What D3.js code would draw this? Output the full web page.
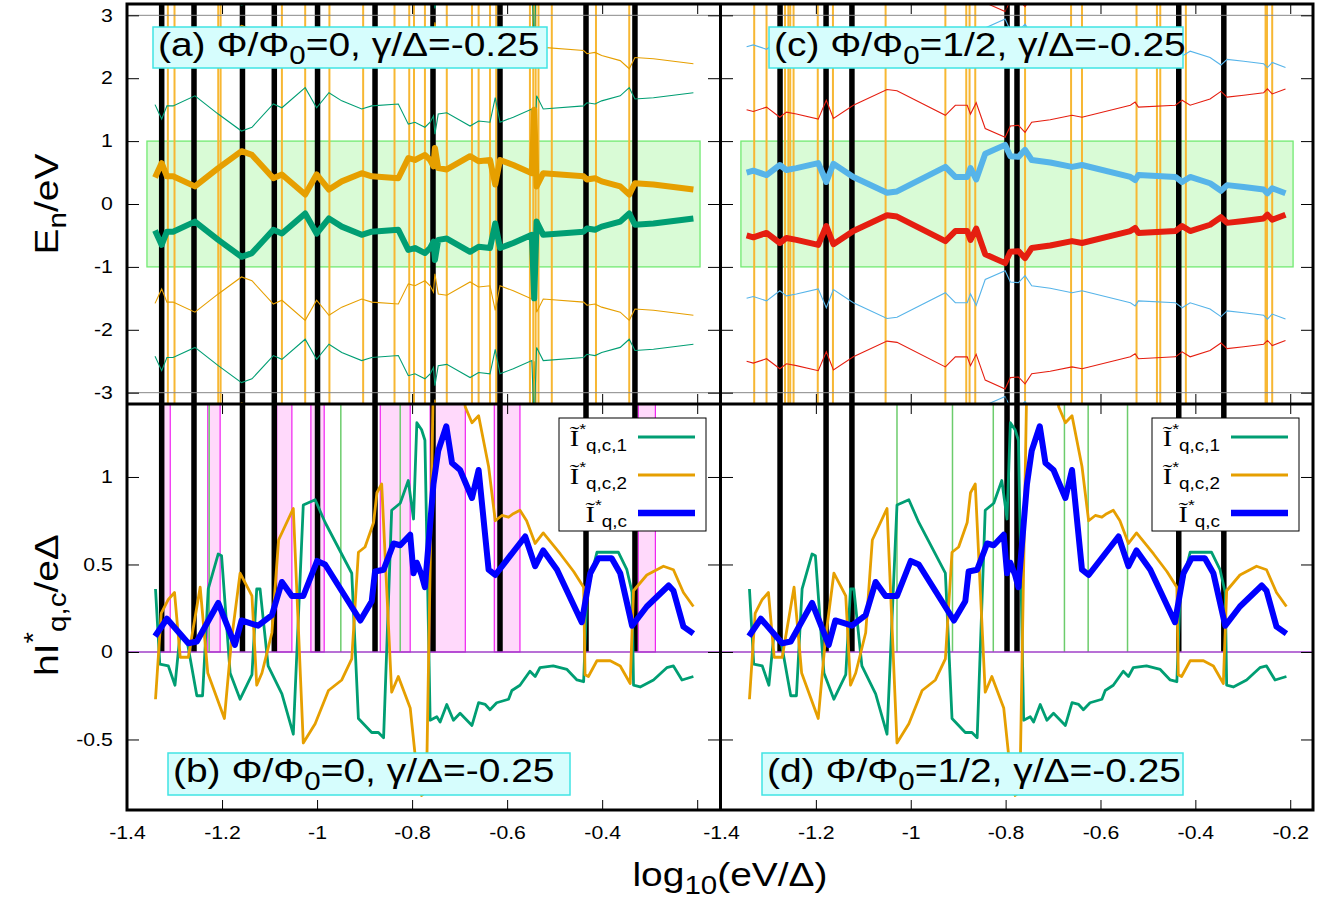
<!DOCTYPE html>
<html>
<head>
<meta charset="utf-8">
<script src="https://d3js.org/d3.v7.min.js"></script>
<style>
body { margin: 0; background: #fff; }
text { font-family: "Liberation Sans", Arial, sans-serif; fill: #000; }
</style>
</head>
<body>
<svg id="chart" width="1328" height="899"></svg>
<script>
// ---------------- data, x = log10(eV/Delta) ----------------
var xTicks = [-1.4, -1.2, -1, -0.8, -0.6, -0.4, -0.2];
var eTicks = [-3, -2, -1, 0, 1, 2, 3];
var iTicks = [-0.5, 0, 0.5, 1];
var zoneShifts = [-4, -2, 2, 4];   // quasi-energy copies drawn thin
var band = [-1.358, -0.194];        // green window, E in [-1, 1]

// (a) Phi/Phi0 = 0 : quasi-energies
var energyA1 = [[-1.341,-0.42],[-1.327,-0.65],[-1.316,-0.44],[-1.303,-0.44],[-1.257,-0.28],[-1.208,-0.57],[-1.159,-0.84],[-1.137,-0.78],[-1.092,-0.41],[-1.074,-0.47],[-1.025,-0.15],[-1.001,-0.47],[-0.975,-0.23],[-0.948,-0.36],[-0.906,-0.49],[-0.885,-0.44],[-0.829,-0.41],[-0.808,-0.73],[-0.794,-0.70],[-0.773,-0.78],[-0.762,-0.70],[-0.755,-0.60],[-0.752,-0.89],[-0.745,-0.57],[-0.727,-0.55],[-0.678,-0.76],[-0.660,-0.68],[-0.636,-0.70],[-0.625,-0.31],[-0.615,-0.70],[-0.587,-0.62],[-0.548,-0.49],[-0.543,-1.50],[-0.538,-0.28],[-0.524,-0.49],[-0.439,-0.44],[-0.432,-0.39],[-0.415,-0.41],[-0.401,-0.36],[-0.362,-0.28],[-0.343,-0.15],[-0.331,-0.33],[-0.292,-0.31],[-0.250,-0.27],[-0.208,-0.23]];
var energyA2 = [[-1.341,0.42],[-1.327,0.65],[-1.316,0.44],[-1.303,0.44],[-1.257,0.28],[-1.208,0.57],[-1.159,0.84],[-1.137,0.78],[-1.092,0.41],[-1.074,0.47],[-1.025,0.15],[-1.001,0.47],[-0.975,0.23],[-0.948,0.36],[-0.906,0.49],[-0.885,0.44],[-0.829,0.41],[-0.808,0.73],[-0.794,0.70],[-0.773,0.78],[-0.762,0.70],[-0.755,0.60],[-0.752,0.89],[-0.745,0.57],[-0.727,0.55],[-0.678,0.76],[-0.660,0.68],[-0.636,0.70],[-0.625,0.31],[-0.615,0.70],[-0.587,0.62],[-0.548,0.49],[-0.543,1.50],[-0.538,0.28],[-0.524,0.49],[-0.439,0.44],[-0.432,0.39],[-0.415,0.41],[-0.401,0.36],[-0.362,0.28],[-0.343,0.15],[-0.331,0.33],[-0.292,0.31],[-0.250,0.27],[-0.208,0.23]];
// (c) Phi/Phi0 = 1/2
var energyC1 = [[-1.346,-0.50],[-1.332,-0.53],[-1.304,-0.46],[-1.276,-0.62],[-1.262,-0.54],[-1.241,-0.57],[-1.195,-0.65],[-1.178,-0.35],[-1.163,-0.64],[-1.121,-0.43],[-1.050,-0.18],[-1.029,-0.20],[-0.927,-0.59],[-0.906,-0.43],[-0.881,-0.43],[-0.874,-0.57],[-0.862,-0.39],[-0.843,-0.80],[-0.801,-0.94],[-0.790,-0.76],[-0.773,-0.75],[-0.759,-0.86],[-0.745,-0.70],[-0.706,-0.66],[-0.660,-0.59],[-0.639,-0.62],[-0.537,-0.43],[-0.527,-0.38],[-0.520,-0.46],[-0.442,-0.43],[-0.428,-0.35],[-0.411,-0.43],[-0.369,-0.33],[-0.346,-0.21],[-0.333,-0.30],[-0.298,-0.27],[-0.256,-0.23],[-0.248,-0.17],[-0.238,-0.25],[-0.210,-0.17]];
var energyC2 = [[-1.346,0.50],[-1.332,0.53],[-1.304,0.46],[-1.276,0.62],[-1.262,0.54],[-1.241,0.57],[-1.195,0.65],[-1.178,0.35],[-1.163,0.64],[-1.121,0.43],[-1.050,0.18],[-1.029,0.20],[-0.927,0.59],[-0.906,0.43],[-0.881,0.43],[-0.874,0.57],[-0.862,0.39],[-0.843,0.80],[-0.801,0.94],[-0.790,0.76],[-0.773,0.75],[-0.759,0.86],[-0.745,0.70],[-0.706,0.66],[-0.660,0.59],[-0.639,0.62],[-0.537,0.43],[-0.527,0.38],[-0.520,0.46],[-0.442,0.43],[-0.428,0.35],[-0.411,0.43],[-0.369,0.33],[-0.346,0.21],[-0.333,0.30],[-0.298,0.27],[-0.256,0.23],[-0.248,0.17],[-0.238,0.25],[-0.210,0.17]];

// (b),(d) currents (same in both)
var curI1 = [[-1.340,0.36],[-1.331,-0.07],[-1.313,-0.08],[-1.299,-0.19],[-1.288,0.11],[-1.274,0.07],[-1.253,-0.25],[-1.241,-0.25],[-1.229,0.36],[-1.208,0.56],[-1.201,0.55],[-1.183,-0.12],[-1.162,-0.27],[-1.137,-0.13],[-1.127,0.36],[-1.120,0.36],[-1.103,-0.08],[-1.074,-0.24],[-1.050,-0.47],[-1.029,0.84],[-1.004,0.87],[-0.983,0.74],[-0.927,0.45],[-0.913,-0.38],[-0.885,-0.46],[-0.871,-0.46],[-0.860,-0.49],[-0.843,0.81],[-0.825,0.85],[-0.808,0.98],[-0.797,0.76],[-0.790,1.31],[-0.780,1.27],[-0.773,1.21],[-0.762,-0.39],[-0.748,-0.37],[-0.741,-0.40],[-0.727,-0.30],[-0.713,-0.39],[-0.699,-0.35],[-0.674,-0.42],[-0.660,-0.29],[-0.646,-0.30],[-0.636,-0.33],[-0.622,-0.29],[-0.597,-0.27],[-0.590,-0.22],[-0.573,-0.19],[-0.552,-0.11],[-0.541,-0.14],[-0.531,-0.09],[-0.503,-0.08],[-0.474,-0.10],[-0.453,-0.16],[-0.439,-0.17],[-0.432,0.34],[-0.411,0.57],[-0.366,0.57],[-0.348,0.47],[-0.337,0.34],[-0.334,-0.19],[-0.320,-0.20],[-0.292,-0.16],[-0.264,-0.09],[-0.250,-0.08],[-0.232,-0.16],[-0.208,-0.14]];
var curI2 = [[-1.340,-0.27],[-1.328,0.22],[-1.313,0.30],[-1.300,0.34],[-1.288,-0.03],[-1.271,-0.03],[-1.246,0.37],[-1.230,-0.12],[-1.195,-0.38],[-1.180,0.07],[-1.162,0.45],[-1.137,0.32],[-1.127,-0.19],[-1.116,-0.12],[-1.095,0.11],[-1.081,0.64],[-1.050,0.82],[-1.029,-0.52],[-1.004,-0.41],[-0.976,-0.22],[-0.948,-0.16],[-0.927,-0.04],[-0.913,0.57],[-0.899,0.60],[-0.881,0.74],[-0.874,0.91],[-0.864,0.96],[-0.843,-0.23],[-0.829,-0.14],[-0.804,-0.32],[-0.794,-0.58],[-0.780,-0.82],[-0.770,-0.80],[-0.755,1.6],[-0.735,1.9],[-0.705,1.7],[-0.688,1.40],[-0.674,1.31],[-0.660,1.35],[-0.639,1.06],[-0.625,0.75],[-0.611,0.78],[-0.597,0.77],[-0.587,0.79],[-0.573,0.81],[-0.559,0.75],[-0.541,0.62],[-0.524,0.68],[-0.488,0.56],[-0.460,0.46],[-0.439,0.37],[-0.436,-0.13],[-0.429,-0.14],[-0.411,-0.05],[-0.383,-0.05],[-0.362,-0.08],[-0.341,-0.18],[-0.334,0.35],[-0.306,0.44],[-0.271,0.49],[-0.250,0.47],[-0.229,0.34],[-0.208,0.26]];
var curI = [[-1.341,0.09],[-1.316,0.19],[-1.271,0.05],[-1.253,0.06],[-1.208,0.28],[-1.173,0.04],[-1.159,0.18],[-1.124,0.15],[-1.095,0.21],[-1.074,0.40],[-1.053,0.32],[-1.029,0.32],[-1.000,0.52],[-0.983,0.50],[-0.909,0.18],[-0.885,0.29],[-0.878,0.46],[-0.860,0.47],[-0.839,0.62],[-0.825,0.61],[-0.804,0.67],[-0.797,0.45],[-0.790,0.51],[-0.780,0.44],[-0.773,0.37],[-0.755,0.96],[-0.745,1.15],[-0.728,1.29],[-0.716,1.08],[-0.699,1.04],[-0.674,0.88],[-0.660,1.04],[-0.639,0.47],[-0.625,0.44],[-0.562,0.66],[-0.541,0.49],[-0.524,0.58],[-0.495,0.47],[-0.443,0.17],[-0.425,0.45],[-0.408,0.535],[-0.380,0.535],[-0.362,0.45],[-0.337,0.15],[-0.306,0.26],[-0.260,0.38],[-0.250,0.35],[-0.229,0.145],[-0.208,0.105]];

// vertical markers
var blackLinesA = [-1.327, -1.259, -1.157, -1.090, -0.999, -0.878, -0.756, -0.615, -0.434, -0.331];
var orangeLinesA = [-1.314, -1.300, -1.208, -1.203, -1.074, -1.025, -0.974, -0.903, -0.837, -0.806, -0.796, -0.773, -0.727, -0.674, -0.660, -0.636, -0.623, -0.552, -0.545, -0.540, -0.534, -0.506, -0.413, -0.343];
var pinkB = [[-1.3305,-1.309],[-1.230,-1.204],[-1.085,-1.053],[-1.013,-0.985],[-0.867,-0.804],[-0.762,-0.688],[-0.627,-0.573],[-0.324,-0.288]];
var greenLinesB = [-1.227, -0.950, -0.825];
var blackLinesC = [-1.2755, -1.1785, -1.124, -0.797, -0.776, -0.435, -0.340];
var orangeLinesC = [-1.330, -1.304, -1.265, -1.258, -1.254, -1.247, -1.196, -1.164, -1.053, -0.927, -0.883, -0.876, -0.864, -0.759, -0.662, -0.639, -0.524, -0.481, -0.474, -0.420, -0.252, -0.249, -0.238];
var greenLinesD = [-1.029, -0.912, -0.826, -0.676, -0.626, -0.543];

var legendNames = ['q,c,1', 'q,c,2', 'q,c'];

// ---------------- drawing ----------------
var svg = d3.select('#chart');
var SX = 1.18; // text of the original is stretched horizontally

var xL = d3.scaleLinear().domain([-1.4, -0.152]).range([127, 720]);
var xR = d3.scaleLinear().domain([-1.4, -0.152]).range([721, 1313]);
var yE = d3.scaleLinear().domain([-3.18, 3.18]).range([404, 4]);
var yI = d3.scaleLinear().domain([-0.903, 1.417]).range([810, 404]);

function clipGroup(id, x, y) {
    svg.append('clipPath').attr('id', id).append('rect')
        .attr('x', x.range()[0]).attr('y', y.range()[1])
        .attr('width', x.range()[1] - x.range()[0])
        .attr('height', y.range()[0] - y.range()[1]);
    return svg.append('g').attr('clip-path', 'url(#' + id + ')');
}

function vlines(g, x, data, y0, y1, color, w) {
    g.append('g').selectAll('line').data(data).enter().append('line')
        .attr('x1', function(d){ return x(d); }).attr('x2', function(d){ return x(d); })
        .attr('y1', y0).attr('y2', y1)
        .attr('stroke', color).attr('stroke-width', w);
}

function energyPanel(id, x, low, high, colLow, colHigh, orangeLines, blackLines) {
    var g = clipGroup(id, x, yE);
    g.append('rect')
        .attr('x', x(band[0])).attr('y', yE(1))
        .attr('width', x(band[1]) - x(band[0])).attr('height', yE(-1) - yE(1))
        .attr('fill', '#d9fbd6').attr('stroke', '#72ea72').attr('stroke-width', 1.3);
    vlines(g, x, orangeLines, 4, 404, '#f7b733', 2);
    vlines(g, x, blackLines, 4, 404, '#000', 5.5);
    [3, -3].forEach(function(v){
        g.append('line').attr('x1', x.range()[0]).attr('x2', x.range()[1])
            .attr('y1', yE(v)).attr('y2', yE(v)).attr('stroke', '#888').attr('stroke-width', 1);
    });
    var line = d3.line().x(function(d){ return x(d[0]); }).y(function(d){ return yE(d[1]); });
    zoneShifts.forEach(function(s){
        [[low, colLow], [high, colHigh]].forEach(function(p){
            g.append('path').datum(p[0].map(function(d){ return [d[0], d[1] + s]; }))
                .attr('d', line).attr('fill', 'none').attr('stroke', p[1]).attr('stroke-width', 1.1);
        });
    });
    [[high, colHigh], [low, colLow]].forEach(function(p){
        g.append('path').datum(p[0]).attr('d', line).attr('fill', 'none')
            .attr('stroke', p[1]).attr('stroke-width', 6).attr('stroke-linejoin', 'round');
    });
}

function currentPanel(id, x, pink, greens, blacks) {
    var g = clipGroup(id, x, yI);
    g.append('g').selectAll('rect').data(pink).enter().append('rect')
        .attr('x', function(d){ return x(d[0]); }).attr('y', 404)
        .attr('width', function(d){ return x(d[1]) - x(d[0]); }).attr('height', yI(0) - 404)
        .attr('fill', '#ffd9fb').attr('stroke', '#f020f0').attr('stroke-width', 1.2);
    vlines(g, x, greens, 404, yI(0), '#6ccc6c', 1.5);
    vlines(g, x, blacks, 404, yI(0), '#000', 5.5);
    g.append('line').attr('x1', x.range()[0]).attr('x2', x.range()[1])
        .attr('y1', yI(0)).attr('y2', yI(0)).attr('stroke', '#a040c8').attr('stroke-width', 1.3);
    var line = d3.line().x(function(d){ return x(d[0]); }).y(function(d){ return yI(d[1]); });
    [[curI1, '#009e73', 2.8], [curI2, '#e69f00', 2.8], [curI, '#0000ff', 6]].forEach(function(p){
        g.append('path').datum(p[0]).attr('d', line).attr('fill', 'none')
            .attr('stroke', p[1]).attr('stroke-width', p[2]).attr('stroke-linejoin', 'round');
    });
}

energyPanel('ca', xL, energyA1, energyA2, '#009e73', '#e69f00', orangeLinesA, blackLinesA);
energyPanel('cc', xR, energyC1, energyC2, '#e51e10', '#56b4e9', orangeLinesC, blackLinesC);
currentPanel('cb', xL, pinkB, greenLinesB, blackLinesA);
currentPanel('cd', xR, [], greenLinesD, blackLinesC);

// legends
function legend(x0) {
    var g = svg.append('g');
    g.append('rect').attr('x', x0).attr('y', 418).attr('width', 147).attr('height', 113)
        .attr('fill', '#fff').attr('stroke', '#000').attr('stroke-width', 1);
    var cols = ['#009e73', '#e69f00', '#0000ff'], ws = [3, 3, 6.5];
    legendNames.forEach(function(name, i){
        var yy = 437 + i * 38;
        g.append('line').attr('x1', x0 + 79).attr('x2', x0 + 136).attr('y1', yy).attr('y2', yy)
            .attr('stroke', cols[i]).attr('stroke-width', ws[i]);
        var t = g.append('text').attr('text-anchor', 'end')
            .attr('transform', 'translate(' + (x0 + 68) + ',' + (yy + 9) + ') scale(' + SX + ',1)');
        t.append('tspan').style('font-family', '"Liberation Serif", serif').style('font-size', '24px').text('\u0128');
        t.append('tspan').attr('dy', -12).style('font-size', '15px').text('*');
        t.append('tspan').attr('dy', 17).style('font-size', '16px').text(name);
    });
}
legend(559);
legend(1152);

// panel labels
function labelBox(x0, y0, w, h, letter, flux) {
    svg.append('rect').attr('x', x0).attr('y', y0).attr('width', w).attr('height', h)
        .attr('fill', '#d6fdfd').attr('stroke', '#40e4e4').attr('stroke-width', 1.5);
    var t = svg.append('text').style('font-size', '33px')
        .attr('transform', 'translate(' + (x0 + 5) + ',' + (y0 + 29) + ') scale(' + SX + ',1)');
    t.append('tspan').text('(' + letter + ') \u03A6/\u03A6');
    t.append('tspan').attr('dy', 8).style('font-size', '25px').text('0');
    t.append('tspan').attr('dy', -8).text('=' + flux + ', \u03B3/\u0394=-0.25');
}
labelBox(153, 27, 394, 41, 'a', '0');
labelBox(769, 27, 414, 41, 'c', '1/2');
labelBox(168, 753, 402, 42, 'b', '0');
labelBox(762, 753, 421, 42, 'd', '1/2');

// axes (inward ticks)
function stretch(sel) {
    sel.selectAll('text').attr('transform', 'scale(' + SX + ',1)')
        .style('font-size', '18px').style('font-family', '"Liberation Sans", Arial, sans-serif');
    sel.select('.domain').remove();
}
function yAxes(x, y, ticks, labelled) {
    var left = svg.append('g').attr('transform', 'translate(' + x.range()[0] + ',0)')
        .call(d3.axisLeft(y).tickValues(ticks).tickSize(-12).tickPadding(12)
            .tickFormat(labelled ? function(d){ return String(d); } : ''));
    stretch(left);
    var right = svg.append('g').attr('transform', 'translate(' + x.range()[1] + ',0)')
        .call(d3.axisRight(y).tickValues(ticks).tickSize(-12).tickFormat(''));
    stretch(right);
}
[xL, xR].forEach(function(x){
    svg.append('g').attr('transform', 'translate(0,4)')
        .call(d3.axisTop(x).tickValues(xTicks).tickSize(-10).tickFormat('')).call(stretch);
    svg.append('g').attr('transform', 'translate(0,404)')
        .call(d3.axisBottom(x).tickValues(xTicks).tickSize(-10).tickFormat('')).call(stretch);
    svg.append('g').attr('transform', 'translate(0,404)')
        .call(d3.axisTop(x).tickValues(xTicks).tickSize(-10).tickFormat('')).call(stretch);
});
// bottom panels carry labels; left panel stops at -0.4
svg.append('g').attr('transform', 'translate(0,810)')
    .call(d3.axisBottom(xL).tickValues(xTicks).tickSize(-10).tickPadding(16)
        .tickFormat(function(d){ return d > -0.3 ? '' : String(d); }))
    .call(stretch);
svg.append('g').attr('transform', 'translate(0,810)')
    .call(d3.axisBottom(xR).tickValues(xTicks).tickSize(-10).tickPadding(16)
        .tickFormat(function(d){ return String(d); }))
    .call(stretch);
yAxes(xL, yE, eTicks, true);
yAxes(xR, yE, eTicks, false);
yAxes(xL, yI, iTicks, true);
yAxes(xR, yI, iTicks, false);

// frames
var frame = svg.append('g').attr('fill', 'none').attr('stroke', '#000').attr('stroke-width', 3);
frame.append('rect').attr('x', 127).attr('y', 4).attr('width', 1186).attr('height', 806);
frame.append('line').attr('x1', 127).attr('x2', 1313).attr('y1', 404).attr('y2', 404);
frame.append('line').attr('x1', 720.5).attr('x2', 720.5).attr('y1', 4).attr('y2', 810);

// axis titles
var t1 = svg.append('text').style('font-size', '33px').attr('text-anchor', 'middle')
    .attr('transform', 'translate(58,204) rotate(-90) scale(' + SX + ',1)');
t1.append('tspan').text('E');
t1.append('tspan').attr('dy', 8).style('font-size', '25px').text('n');
t1.append('tspan').attr('dy', -8).text('/eV');

var t2 = svg.append('text').style('font-size', '33px').attr('text-anchor', 'middle')
    .attr('transform', 'translate(58,605) rotate(-90) scale(' + SX + ',1)');
t2.append('tspan').text('hI');
t2.append('tspan').attr('dy', -16).style('font-size', '25px').text('*');
t2.append('tspan').attr('dy', 24).style('font-size', '25px').text('q,c');
t2.append('tspan').attr('dy', -8).text('/e\u0394');

var t3 = svg.append('text').style('font-size', '33px').attr('text-anchor', 'middle')
    .attr('transform', 'translate(730,886) scale(' + SX + ',1)');
t3.append('tspan').text('log');
t3.append('tspan').attr('dy', 8).style('font-size', '25px').text('10');
t3.append('tspan').attr('dy', -8).text('(eV/\u0394)');
</script>
</body>
</html>
